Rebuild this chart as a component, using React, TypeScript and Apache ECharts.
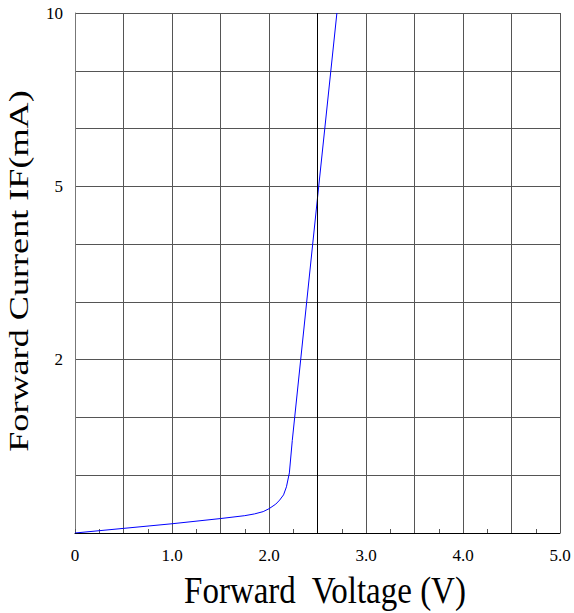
import React, { useEffect, useRef } from "react";
import * as echarts from "echarts";

// Forward voltage (V)
const voltage = [0, 0.5, 1.0, 1.5, 1.75, 1.85, 1.94, 2.0, 2.07, 2.11, 2.15, 2.18, 2.21, 2.24, 2.5, 2.7];
// Current in grid-division units (0..9), labelled 2 / 5 / 10 at divisions 3 / 6 / 9
const current = [0, 0.08, 0.16, 0.25, 0.3, 0.33, 0.37, 0.42, 0.5, 0.57, 0.66, 0.8, 1.04, 1.6, 5.8, 9];
const yTickLabels = ["", "", "", "2", "", "", "5", "", "", "10"];
const xTickValues = [0, 1, 2, 3, 4, 5];
const xTickLabels = ["0", "1.0", "2.0", "3.0", "4.0", "5.0"];

const FONT = "Liberation Serif";

const labelRich = {
  t: { fontFamily: FONT, fontSize: 17, color: "#000", lineHeight: 18 },
};

export default function App() {
  const ref = useRef<HTMLDivElement>(null);
  useEffect(() => {
    if (!ref.current) return;
    const chart = echarts.init(ref.current, undefined, { renderer: "svg" });
    chart.setOption({
      animation: false,
      backgroundColor: "#ffffff",
      textStyle: { fontFamily: FONT },
      grid: { left: 75, right: 14, top: 13, bottom: 80 },
      xAxis: {
        type: "value",
        min: 0,
        max: 5,
        interval: 0.5,
        axisLine: { show: true, lineStyle: { color: "#000", width: 1 } },
        axisTick: { show: true, inside: true, length: 4, lineStyle: { color: "#555" } },
        minorTick: { show: true, splitNumber: 2, length: 4, lineStyle: { color: "#555" } },
        splitLine: { show: true, lineStyle: { color: "#555", width: 1 } },
        axisLabel: {
          showMinLabel: true,
          showMaxLabel: true,
          margin: 13,
          color: "#000",
          fontFamily: FONT,
          fontSize: 17,
          rich: labelRich,
          formatter: (v: number) => {
            const i = xTickValues.findIndex((t) => Math.abs(t - v) < 1e-6);
            return i >= 0 ? "{t|" + xTickLabels[i] + "}" : "";
          },
        },
      },
      yAxis: {
        type: "value",
        min: 0,
        max: 9,
        interval: 1,
        axisLine: { show: true, lineStyle: { color: "#777", width: 1 } },
        axisTick: { show: false },
        splitLine: { show: true, lineStyle: { color: "#555", width: 1 } },
        axisLabel: {
          margin: 12,
          color: "#000",
          fontFamily: FONT,
          fontSize: 17,
          rich: labelRich,
          formatter: (v: number) => {
            const s = yTickLabels[Math.round(v)] ?? "";
            return s ? "{t|" + s + "}" : "";
          },
        },
      },
      graphic: [
        {
          type: "text",
          x: 325,
          y: 590,
          scaleY: 1.15,
          style: {
            text: "Forward  Voltage (V)",
            fontFamily: FONT,
            fontSize: 33,
            fill: "#000",
            align: "center",
            verticalAlign: "middle",
          },
        },
        {
          type: "text",
          x: 19,
          y: 271,
          rotation: Math.PI / 2,
          scaleX: 1.34,
          style: {
            text: "Forward Current IF(mA)",
            fontFamily: FONT,
            fontSize: 27,
            fill: "#000",
            align: "center",
            verticalAlign: "middle",
          },
        },
      ],
      series: [
        {
          type: "line",
          data: voltage.map((v, i) => [v, current[i]]),
          showSymbol: false,
          symbol: "none",
          lineStyle: { color: "#0000ff", width: 1 },
          markLine: {
            silent: true,
            symbol: "none",
            label: { show: false },
            lineStyle: { color: "#000", width: 1, type: "solid" },
            data: [{ xAxis: 2.5 }],
          },
        },
      ],
    });
    return () => chart.dispose();
  }, []);
  return (
    <div
      ref={ref}
      style={{ position: "fixed", left: 0, top: 0, width: 574, height: 613 }}
    />
  );
}
